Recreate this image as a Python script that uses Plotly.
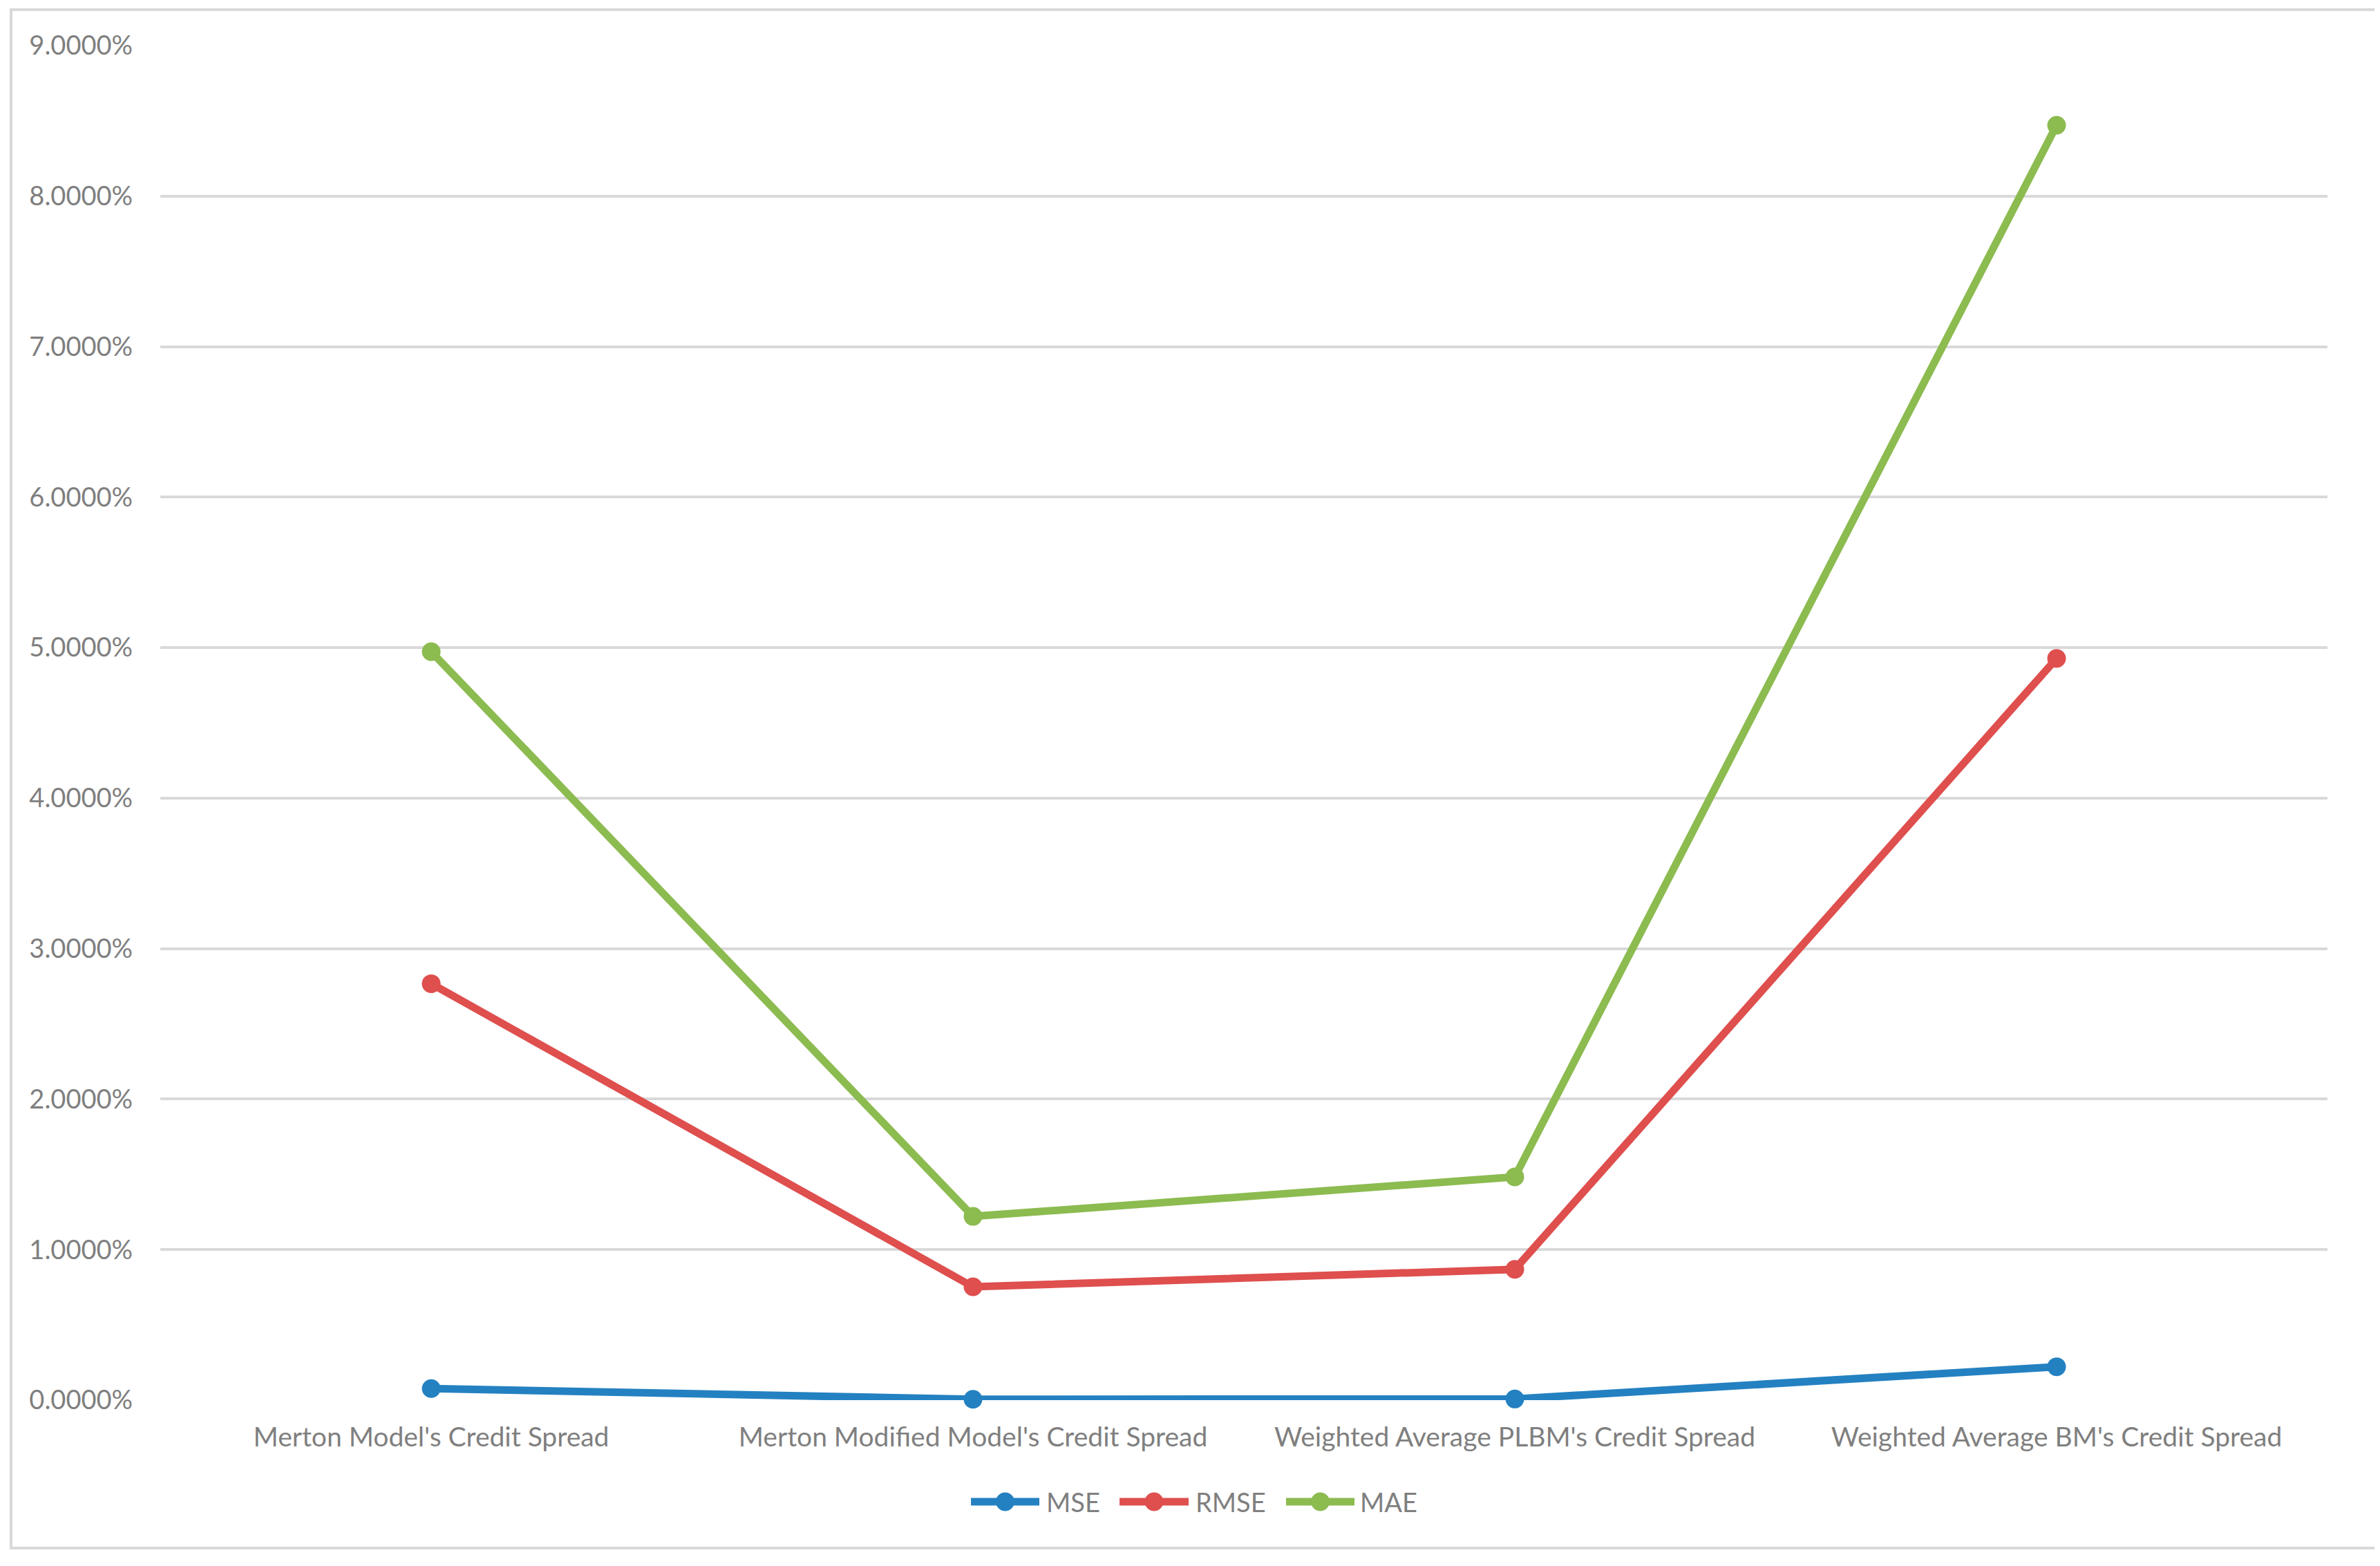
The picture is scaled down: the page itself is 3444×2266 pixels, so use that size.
import plotly.graph_objects as go

categories = ["Merton Model's Credit Spread", "Merton Modified Model's Credit Spread",
              "Weighted Average PLBM's Credit Spread", "Weighted Average BM's Credit Spread"]
mse = [0.000766, 0.000057, 0.000076, 0.00222]
rmse = [0.02767, 0.00753, 0.00869, 0.04928]
mae = [0.04973, 0.01221, 0.01483, 0.08471]

series_names = ["MSE", "RMSE", "MAE"]
series_values = [mse, rmse, mae]
series_colors = ["#2481C1", "#DE4F4E", "#8CBB50"]

W, H = 3444, 2266
OFF = 8  # page body margin
# desired plot area in page pixels
PX0, PX1, PY0, PY1 = 232, 3368, 66, 2026
L, T = PX0 - OFF, PY0 - OFF
R, B = W + OFF - PX1, H + OFF - PY1
pw, ph = PX1 - PX0, PY1 - PY0


def xp(px):
    return (px - PX0) / pw


def yp(py):
    return (PY1 - py) / ph


fig = go.Figure()
for name, vals, col in zip(series_names, series_values, series_colors):
    fig.add_trace(go.Scatter(
        x=categories, y=vals, name=name, mode="lines+markers",
        line=dict(color=col, width=11),
        marker=dict(color=col, size=27, line=dict(width=0)),
        cliponaxis=False, showlegend=False,
    ))

font_family = "Lato, 'Open Sans', sans-serif"
gray = "#7F7F7F"

shapes = [dict(type="rect", xref="paper", yref="paper",
               x0=xp(16), x1=xp(3442), y0=yp(2240), y1=yp(14),
               line=dict(color="#D9D9D9", width=4), fillcolor="rgba(0,0,0,0)",
               layer="below")]
annotations = []

# custom legend (page pixel positions)
leg_y = 2173
leg_items = [(1405, 1504, 1512), (1620, 1720, 1728), (1861, 1960, 1966)]
for (lx0, lx1, tx), name, col in zip(leg_items, series_names, series_colors):
    shapes.append(dict(type="line", xref="paper", yref="paper",
                       x0=xp(lx0), x1=xp(lx1), y0=yp(leg_y), y1=yp(leg_y),
                       line=dict(color=col, width=11)))
    cx = (lx0 + lx1) / 2
    shapes.append(dict(type="circle", xref="paper", yref="paper",
                       xsizemode="pixel", ysizemode="pixel",
                       xanchor=xp(cx), yanchor=yp(leg_y),
                       x0=-13.5, x1=13.5, y0=-13.5, y1=13.5,
                       line=dict(width=0), fillcolor=col))
    annotations.append(dict(xref="paper", yref="paper", x=xp(tx), y=yp(leg_y),
                            xanchor="left", yanchor="middle", showarrow=False,
                            text=name, font=dict(size=38, color=gray)))

fig.update_layout(
    width=W, height=H,
    margin=dict(l=L, r=R, t=T, b=B),
    paper_bgcolor="white", plot_bgcolor="white",
    font=dict(family=font_family, size=38, color=gray),
    showlegend=False,
    xaxis=dict(type="category", range=[-0.5, 3.5], showgrid=False,
               showline=False, zeroline=False, ticks="",
               tickfont=dict(size=39, color=gray), ticklabelstandoff=27),
    yaxis=dict(range=[0, 0.09], dtick=0.01, tickformat=".4%",
               showgrid=True, gridcolor="#D9D9D9", gridwidth=4,
               zeroline=False, showline=False, ticks="",
               tickfont=dict(size=38, color=gray), ticklabelstandoff=39),
    shapes=shapes,
    annotations=annotations,
)

fig.write_html("out.html")
